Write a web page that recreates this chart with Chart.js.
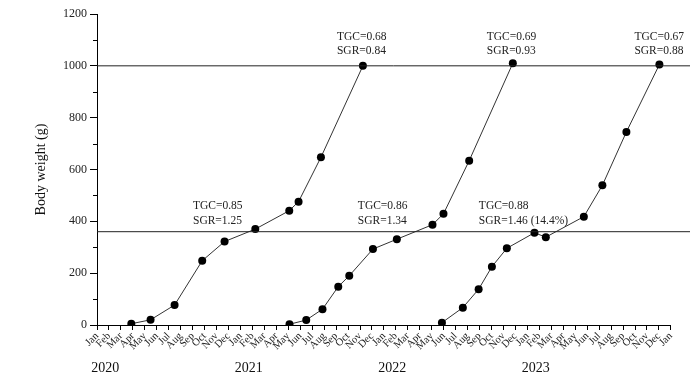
<!DOCTYPE html>
<html>
<head>
<meta charset="utf-8">
<title>Body weight</title>
<script src="https://cdn.jsdelivr.net/npm/chart.js@4.4.1/dist/chart.umd.min.js"></script>
<style>
  html, body { margin: 0; padding: 0; background: #fff; }
  #wrap { width: 700px; height: 375px; }
</style>
</head>
<body>
<div id="wrap"><canvas id="weightChart" width="700" height="375"></canvas></div>
<script>
// x axis: month index counted from Jan 2020 (0) to Jan 2024 (48)
const monthNames = ['Jan', 'Feb', 'Mar', 'Apr', 'May', 'Jun', 'Jul', 'Aug', 'Sep', 'Oct', 'Nov', 'Dec'];
const monthLabels = [...monthNames, ...monthNames, ...monthNames, ...monthNames, 'Jan'];
const yearLabels = ['2020', '2021', '2022', '2023'];

// three growth cycles
const cycle1Months = [2.87, 4.48, 6.49, 8.80, 10.67, 13.24, 16.08, 16.86, 18.73, 22.24];
const cycle1Weight = [5, 20, 77, 248, 322, 370, 441, 476, 647, 1000];
const cycle2Months = [16.1, 17.5, 18.86, 20.18, 21.1, 23.08, 25.08, 28.06, 28.98, 31.13, 34.78];
const cycle2Weight = [3, 19, 61, 148, 190, 293, 331, 387, 429, 634, 1010];
const cycle3Months = [28.85, 30.6, 31.92, 33.03, 34.28, 36.59, 37.54, 40.72, 42.27, 44.28, 47.04];
const cycle3Weight = [9, 67, 138, 225, 296, 356, 339, 418, 539, 745, 1005];

// horizontal reference lines (g)
const refLines = [1000, 360];

// text notes, anchored in data coordinates (month index, weight)
const noteTGC = ['TGC=0.85', 'TGC=0.86', 'TGC=0.88', 'TGC=0.68', 'TGC=0.69', 'TGC=0.67'];
const noteSGR = ['SGR=1.25', 'SGR=1.34', 'SGR=1.46 (14.4%)', 'SGR=0.84', 'SGR=0.93', 'SGR=0.88'];
const noteX = [8.03, 21.82, 31.94, 20.07, 32.6, 44.95];
const noteY = [459, 459, 459, 1113, 1113, 1113];

const xMax = 49.6;
const serif = "'Liberation Serif', 'Times New Roman', serif";

function toPoints(xs, ys) {
    return xs.map((x, i) => ({ x: x, y: ys[i] }));
}

function cycleSet(xs, ys) {
    return {
        data: toPoints(xs, ys),
        borderColor: '#333',
        borderWidth: 1,
        pointRadius: 4,
        pointBackgroundColor: '#000',
        pointBorderWidth: 0,
        tension: 0
    };
}

const datasets = refLines.map(v => ({
    data: [{ x: 0, y: v }, { x: xMax, y: v }],
    borderColor: '#222',
    borderWidth: 1,
    pointRadius: 0
}));
datasets.push(cycleSet(cycle1Months, cycle1Weight));
datasets.push(cycleSet(cycle2Months, cycle2Weight));
datasets.push(cycleSet(cycle3Months, cycle3Weight));

// axis line, minor ticks, year labels and notes
const extras = {
    id: 'extras',
    afterDraw(chart) {
        const c = chart.ctx;
        const xs = chart.scales.x;
        const ys = chart.scales.y;
        const area = chart.chartArea;
        c.save();
        c.strokeStyle = '#000';
        c.lineWidth = 1;
        c.beginPath();
        c.moveTo(xs.getPixelForValue(0), Math.round(area.bottom) + 0.5);
        c.lineTo(xs.getPixelForValue(48), Math.round(area.bottom) + 0.5);
        for (let v = 100; v < 1200; v += 200) {
            const py = Math.round(ys.getPixelForValue(v)) + 0.5;
            c.moveTo(area.left - 4, py);
            c.lineTo(area.left, py);
        }
        c.stroke();

        c.fillStyle = '#111';
        c.font = '14px ' + serif;
        c.textAlign = 'center';
        c.textBaseline = 'middle';
        yearLabels.forEach((t, i) => {
            c.fillText(t, xs.getPixelForValue(12 * i + 0.7), 368);
        });

        c.font = '11.5px ' + serif;
        c.textAlign = 'left';
        c.fillStyle = '#222';
        noteTGC.forEach((t, i) => {
            const px = xs.getPixelForValue(noteX[i]);
            const py = ys.getPixelForValue(noteY[i]);
            c.fillText(t, px, py);
            c.fillText(noteSGR[i], px, py + 14.5);
        });
        c.restore();
    }
};

const ctx = document.getElementById('weightChart').getContext('2d');
new Chart(ctx, {
    type: 'line',
    data: { datasets: datasets },
    options: {
        responsive: false,
        devicePixelRatio: 1,
        animation: false,
        layout: { padding: { top: 14, right: 10, left: 0, bottom: 0 } },
        plugins: {
            legend: { display: false },
            tooltip: { enabled: false }
        },
        scales: {
            x: {
                type: 'linear',
                min: 0,
                max: xMax,
                afterBuildTicks: s => { s.ticks = monthLabels.map((_, i) => ({ value: i })); },
                afterFit: s => { s.height = 50; },
                border: { display: false },
                grid: { drawOnChartArea: false, tickLength: 5, color: '#000' },
                ticks: {
                    autoSkip: false,
                    minRotation: 45,
                    maxRotation: 45,
                    padding: 0,
                    color: '#222',
                    font: { family: serif, size: 10.5 },
                    callback: v => monthLabels[Math.round(v)]
                }
            },
            y: {
                min: 0,
                max: 1200,
                afterFit: s => { s.width = 97; },
                border: { color: '#000' },
                grid: { drawOnChartArea: false, tickLength: 7, color: '#000' },
                ticks: {
                    stepSize: 200,
                    padding: 3,
                    color: '#222',
                    font: { family: serif, size: 12 },
                    callback: v => String(v)
                },
                title: {
                    display: true,
                    text: 'Body weight (g)',
                    color: '#111',
                    font: { family: serif, size: 14 },
                    padding: { top: 33 }
                }
            }
        }
    },
    plugins: [extras]
});
</script>
</body>
</html>
